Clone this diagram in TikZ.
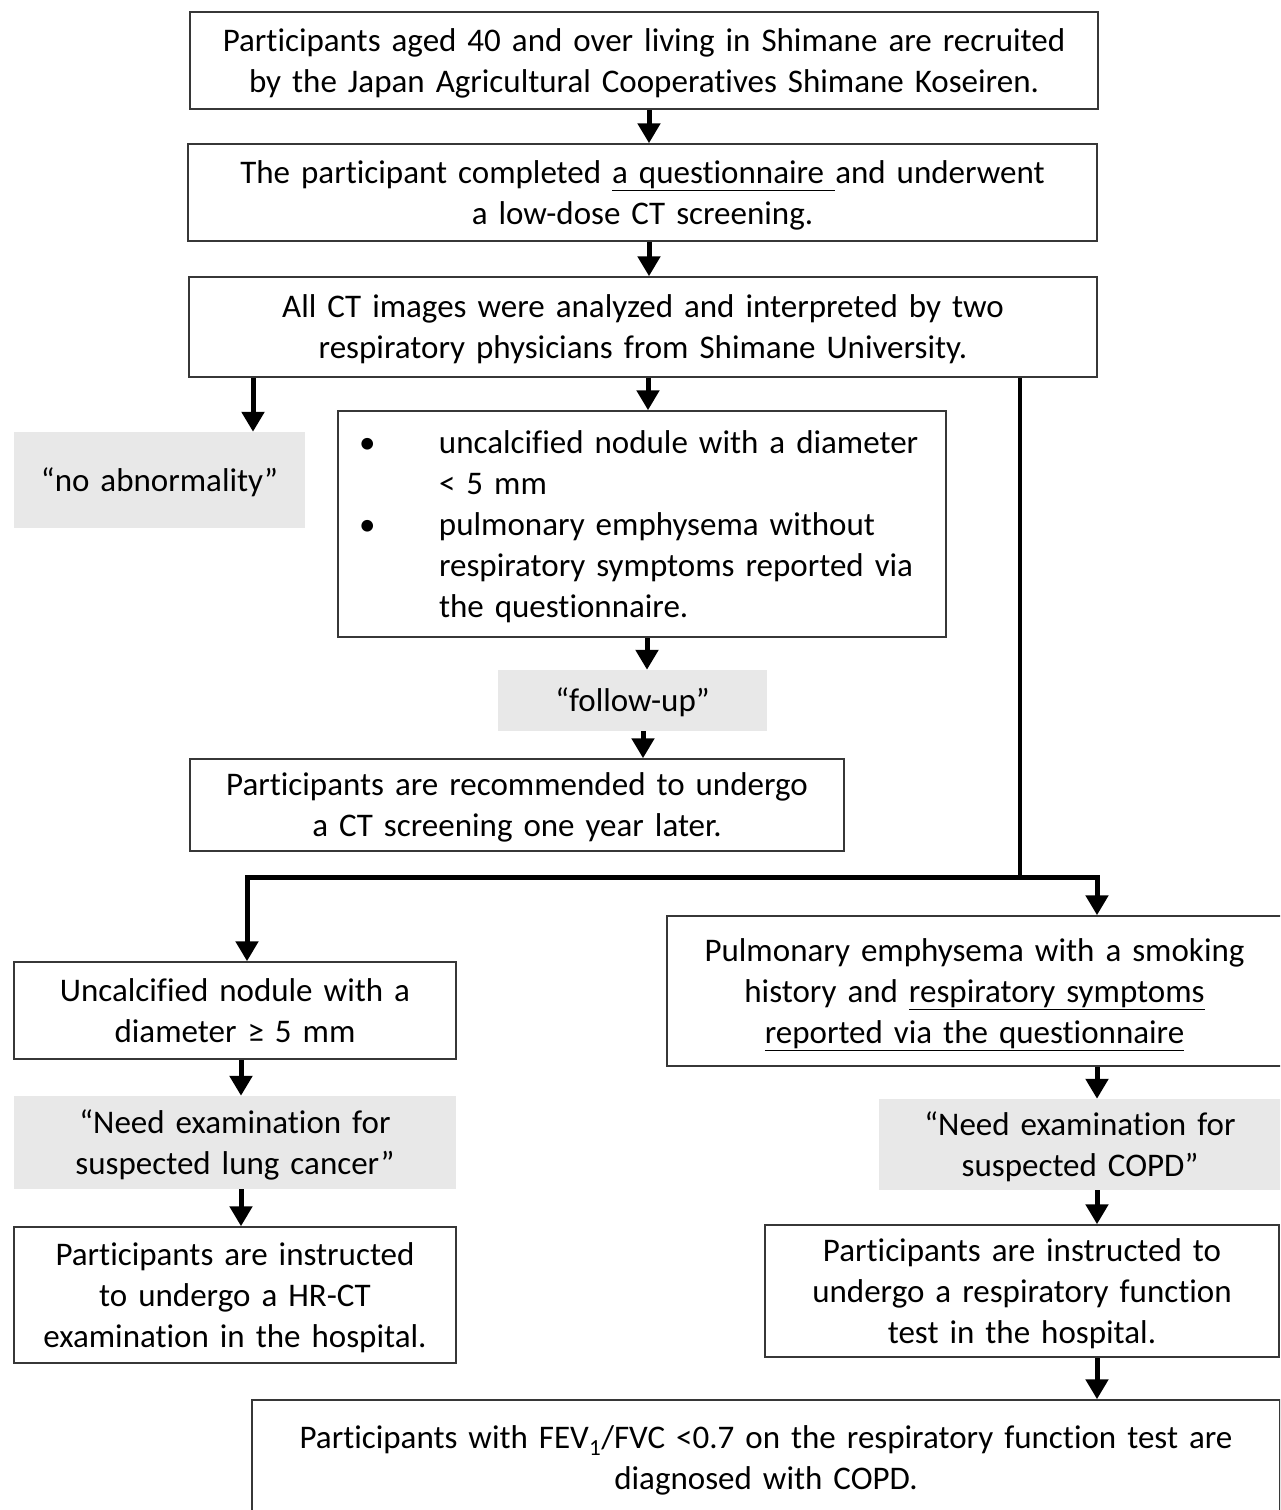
\documentclass[tikz,border=0pt]{standalone}
\usepackage{fontspec}
\setmainfont{Carlito}[Ligatures=NoCommon]
\usetikzlibrary{arrows.meta}
\definecolor{boxgray}{RGB}{232,232,232}
\definecolor{edgecol}{RGB}{55,55,55}
\newcommand\fsz{\fontsize{33}{41}\selectfont}
\newcommand\topstrut{\rule{0pt}{31.7pt}}
\newcommand\botstrut{\rule[-9.3pt]{0pt}{9.3pt}}
\begin{document}
\begin{tikzpicture}[x=1pt,y=-1pt,
  box/.style={draw=edgecol, line width=1.5pt, fill=white, inner sep=0pt, align=center, font=\fsz,
    execute at begin node=\topstrut, execute at end node=\botstrut},
  gbox/.style={fill=boxgray, inner sep=0pt, align=center, font=\fsz,
    execute at begin node=\topstrut, execute at end node=\botstrut},
  arr/.style={line width=5pt, line join=miter, -{Triangle[length=20pt,width=22pt]}},
  trunk/.style={line width=4.5pt, line join=miter}]
\useasboundingbox (0,0) rectangle (1280,1510);
\clip (0,0) rectangle (1280,1510);
\fill[white] (0,0) rectangle (1280,1510);

\node[box, text width=908pt, minimum height=97pt] (b1) at (644,60.5)
  {Participants aged 40 and over living in Shimane are recruited\\ by the Japan Agricultural Cooperatives Shimane Koseiren.};
\node[box, text width=909pt, minimum height=97pt] (b2) at (642.5,192.5)
  {The participant completed \underline{a questionnaire\ }and underwent\\ a low-dose CT screening.};
\node[box, text width=908pt, minimum height=100pt] (b3) at (643,327)
  {All CT images were analyzed and interpreted by two\\ respiratory physicians from Shimane University.};
\node[gbox, text width=291pt, minimum height=96pt] (b4) at (159.5,480)
  {“no abnormality”};
\node[draw=edgecol, line width=1.5pt, fill=white, inner ysep=0pt, inner xsep=21pt, text width=566pt,
  align=left, font=\fsz, minimum height=226pt] (b5) at (642,524)
  {\raisebox{-3pt}[\height][\depth]{\begin{tabular}{@{}p{80pt}@{}l@{}}
   • & uncalcified nodule with a diameter\\
     & < 5 mm\\
   • & pulmonary emphysema without\\
     & respiratory symptoms reported via\\
     & the questionnaire.
   \end{tabular}}};
\node[gbox, text width=269pt, minimum height=61pt] (b6) at (632.5,700.5)
  {“follow-up”};
\node[box, text width=654pt, minimum height=92pt] (b7) at (517,805)
  {Participants are recommended to undergo\\ a CT screening one year later.};
\node[box, text width=442pt, minimum height=97pt] (b8) at (235,1010.5)
  {Uncalcified nodule with a\\ diameter ≥ 5 mm};
\node[gbox, text width=442pt, minimum height=93pt] (b9) at (235,1142.5)
  {“Need examination for\\ suspected lung cancer”};
\node[box, text width=442pt, minimum height=136pt] (b10) at (235,1295)
  {Participants are instructed\\ to undergo a HR-CT\\ examination in the hospital.};
\node[box, text width=615pt, minimum height=150pt] (b11) at (974.5,991)
  {Pulmonary emphysema with a smoking\\ history and \underline{respiratory symptoms}\\ \underline{reported via the questionnaire}};
\node[gbox, text width=402pt, minimum height=91pt] (b12) at (1080,1144.5)
  {“Need examination for\\ suspected COPD”};
\node[box, text width=514pt, minimum height=132pt] (b13) at (1022,1291)
  {Participants are instructed to\\ undergo a respiratory function\\ test in the hospital.};
\node[box, text width=1028pt, minimum height=116pt] (b14) at (766,1458)
  {Participants with FEV\textsubscript{1}/FVC <0.7 on the respiratory function test are\\ diagnosed with COPD.};

\coordinate (c649) at (649,0);
\coordinate (c648) at (648,0);
\coordinate (c647) at (647,0);
\coordinate (c643) at (643,0);
\coordinate (c253) at (253,0);
\coordinate (c241) at (241,0);
\coordinate (c1097) at (1097,0);
\coordinate (j) at (1020,877);
\coordinate (jl) at (247,877);
\coordinate (jr) at (1097,877);

\draw[arr] (b1.south -| c649) -- (b2.north -| c649);
\draw[arr] (b2.south -| c649) -- (b3.north -| c649);
\draw[arr] (b3.south -| c253) -- (b4.north -| c253);
\draw[arr] (b3.south -| c648) -- (b5.north -| c648);
\draw[arr] (b5.south -| c647) -- (b6.north -| c647);
\draw[arr] (b6.south -| c643) -- (b7.north -| c643);
\draw[trunk] (b3.south -| j) -- (j);
\draw[arr] (j) -- (jl) -- (b8.north -| jl);
\draw[arr] (j) -- (jr) -- (b11.north -| jr);
\draw[arr] (b8.south -| c241) -- (b9.north -| c241);
\draw[arr] (b9.south -| c241) -- (b10.north -| c241);
\draw[arr] (b11.south -| c1097) -- (b12.north -| c1097);
\draw[arr] (b12.south -| c1097) -- (b13.north -| c1097);
\draw[arr] (b13.south -| c1097) -- (b14.north -| c1097);
\end{tikzpicture}
\end{document}
